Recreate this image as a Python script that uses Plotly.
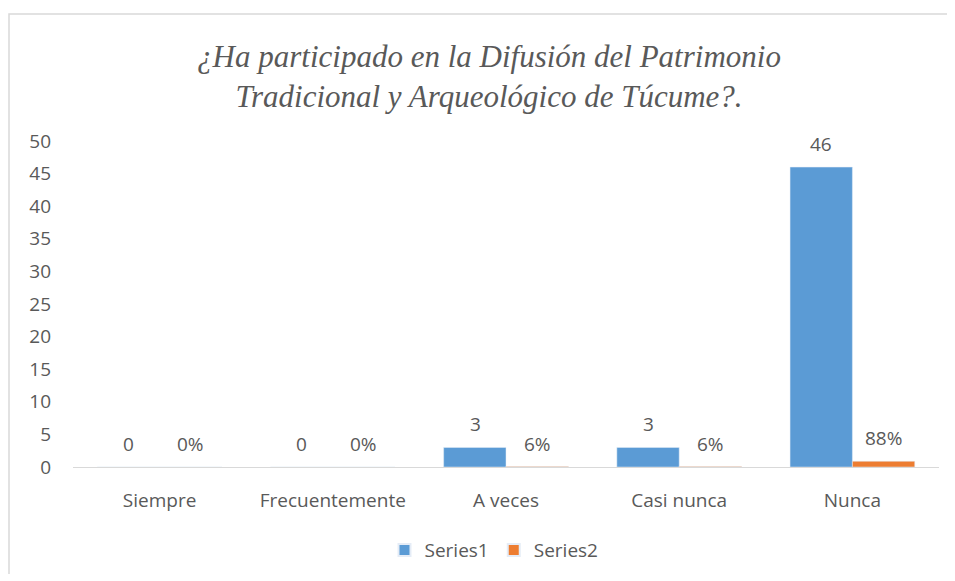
import plotly.graph_objects as go

categories = ["Siempre", "Frecuentemente", "A veces", "Casi nunca", "Nunca"]
series1 = [0, 0, 3, 3, 46]
series2 = [0.0, 0.0, 0.06, 0.06, 0.88]
series1_labels = ["0", "0", "3", "3", "46"]
series2_labels = ["0%", "0%", "6%", "6%", "88%"]
y_ticks = [0, 5, 10, 15, 20, 25, 30, 35, 40, 45, 50]

BLUE = "#5B9BD5"
ORANGE = "#ED7D31"
TXT = "#595959"
FONT = "Open Sans"
FS = 19

fig = go.Figure()
fig.add_trace(go.Bar(name="Series1", x=categories, y=series1, marker_color=BLUE))
fig.add_trace(go.Bar(name="Series2", x=categories, y=series2, marker_color=ORANGE))

annotations = []
for c, v, t in zip(categories, series1, series1_labels):
    annotations.append(dict(x=c, y=v, text=t, xref="x", yref="y", showarrow=False,
                            xshift=-31, yshift=23, yanchor="middle",
                            font=dict(family=FONT, size=FS, color=TXT)))
for c, v, t in zip(categories, series2, series2_labels):
    annotations.append(dict(x=c, y=v, text=t, xref="x", yref="y", showarrow=False,
                            xshift=31, yshift=23, yanchor="middle",
                            font=dict(family=FONT, size=FS, color=TXT)))

fig.update_layout(
    width=940, height=566, autosize=False,
    margin=dict(l=65, r=9, t=133, b=107, autoexpand=False),
    paper_bgcolor="white", plot_bgcolor="white",
    barmode="group", bargap=0.28, bargroupgap=0,
    font=dict(family=FONT, size=FS, color=TXT),
    title=dict(
        text="¿Ha participado en la Difusión del Patrimonio<br>Tradicional y Arqueológico de Túcume?.",
        x=(489 - 8) / 940, xref="container", xanchor="center",
        y=1 - 59 / 566, yref="container", yanchor="middle",
        font=dict(family="Liberation Serif", size=31, color=TXT, style="italic"),
    ),
    xaxis=dict(showgrid=False, showline=True, linecolor="#D9D9D9", linewidth=1,
               ticks="", tickangle=0, ticklabelstandoff=16,
               tickfont=dict(size=FS, color=TXT)),
    yaxis=dict(range=[0, 50], tickvals=y_ticks, showgrid=False, showline=False,
               zeroline=False, ticks="", ticklabelstandoff=21,
               tickfont=dict(size=FS, color=TXT)),
    legend=dict(orientation="h", x=(494 - 8) / 940, xref="container", xanchor="center",
                y=-0.255, yanchor="middle", font=dict(size=FS, color=TXT),
                itemsizing="constant"),
    annotations=annotations,
    shapes=[dict(type="rect", xref="paper", yref="paper", x0=(1 - 65) / 866, x1=1.03,
                 y0=-0.36, y1=1.3896, line=dict(color="#D9D9D9", width=1.5),
                 layer="below")],
)

fig.write_html("out.html")
